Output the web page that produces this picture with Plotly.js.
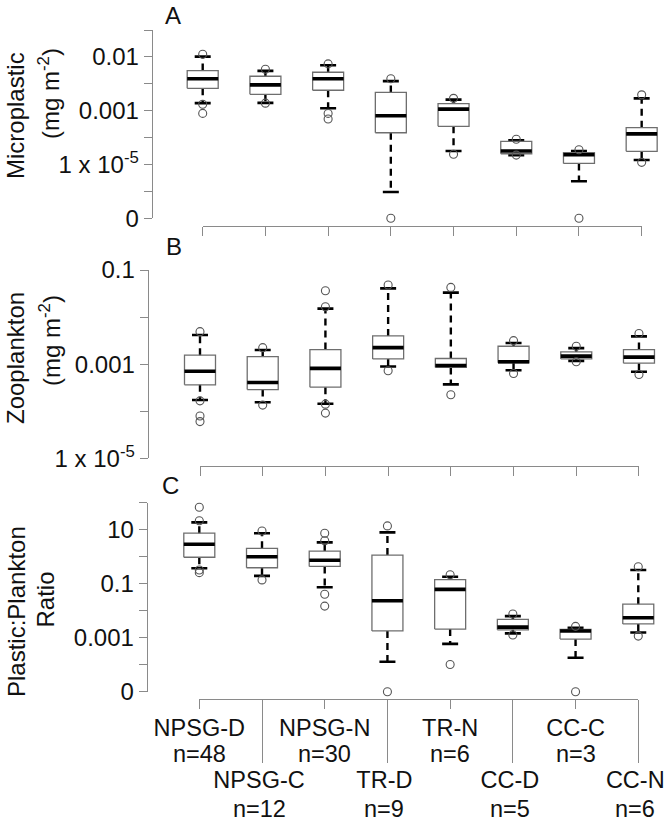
<!DOCTYPE html>
<html><head><meta charset="utf-8">
<script src="https://cdn.plot.ly/plotly-3.0.1.min.js"></script>
<style>body{margin:0;background:#fff}#chart{width:666px;height:823px}</style>
</head><body><div id="chart"></div>
<script>
// Categories and sample sizes
const groups = ['NPSG-D','NPSG-C','NPSG-N','TR-D','TR-N','CC-D','CC-C','CC-N'];
const nCounts = [48,12,30,9,6,5,3,6];

// Values read in axis tick units (one unit per tick mark of each panel's log-style axis)
// Panel A: Microplastic (mg m-2)
const aQ1  = [4.83,4.61,4.76,3.18,3.42,2.40,2.04,2.49];
const aMed = [5.19,4.96,5.19,3.81,4.06,2.50,2.36,3.14];
const aQ3  = [5.49,5.28,5.43,4.68,4.26,2.86,2.44,3.37];
const aLo  = [4.28,4.29,4.09,0.98,2.50,2.35,1.38,2.17];
const aHi  = [6.01,5.48,5.69,5.10,4.41,2.90,2.50,4.46];
const aOut = [[6.10,4.24,3.90],[5.54,4.28],[5.74,3.90,3.69],[5.19,0],[4.46,2.38],[2.94,2.35],[2.55,0],[4.59,2.08]];
const aTickVals = [0,2,4,6];
const aTickText = ['0','1 x 10<sup>-5</sup>','0.001','0.01'];

// Panel B: Zooplankton (mg m-2)
const bQ1  = [1.56,1.46,1.51,2.11,1.93,2.03,2.11,2.02];
const bMed = [1.85,1.61,1.91,2.35,1.97,2.05,2.17,2.15];
const bQ3  = [2.19,2.16,2.31,2.60,2.12,2.38,2.26,2.31];
const bLo  = [1.24,1.19,1.16,1.95,1.57,1.87,2.07,1.84];
const bHi  = [2.62,2.30,3.18,3.61,3.52,2.45,2.34,2.59];
const bOut = [[2.69,1.22,0.90,0.78],[2.35,1.13],[3.56,3.22,1.15,0.96],[3.68,1.86],[3.63,1.35],[2.50,1.80],[2.38,2.05],[2.65,1.78]];
const bTickVals = [0,2,4];
const bTickText = ['1 x 10<sup>-5</sup>','0.001','0.1'];

// Panel C: Plastic:Plankton ratio
const cQ1  = [4.98,4.59,4.64,2.25,2.32,2.29,1.95,2.51];
const cMed = [5.46,5.00,4.87,3.37,3.79,2.39,2.25,2.74];
const cQ3  = [5.87,5.31,5.21,5.06,4.15,2.68,2.31,3.24];
const cLo  = [4.57,4.29,3.87,1.11,1.77,2.16,1.26,2.19];
const cHi  = [6.27,5.87,5.53,5.90,4.26,2.80,2.37,4.51];
const cOut = [[6.83,6.33,4.51,4.41],[5.95,4.14],[5.87,5.59,3.61,3.17],[6.14,0],[4.33,1.01],[2.88,2.10],[2.42,0],[4.63,2.06]];
const cTickVals = [0,2,4,6];
const cTickText = ['0','0.001','0.1','10'];

// ---- geometry / style ----
const W = 666, H = 823;
const px = v => v / W;
const py = v => 1 - v / H;
const STEP = 62.71;           // pixels per category
const BOXW = 15.5 / STEP;     // half box width (category units)
const CAPW = 8 / STEP;        // half staple width
const FAM = 'Liberation Sans, Arial, sans-serif';
const FONT = {family: FAM, size: 24, color: '#111'};
const CFONT = {family: FAM, size: 23.5, color: '#111'};
const TFONT = {family: FAM, size: 24, color: '#111'};
const AXC = '#8a8a8a';

function boxTraces(q1, med, q3, lo, hi, out, xa, ya) {
  const bx=[],by=[],mx=[],my=[],wx=[],wy=[],cx=[],cy=[],ox=[],oy=[];
  groups.forEach((g, i) => {
    const c = i + 1;
    wx.push(c, c, null, c, c, null);
    wy.push(q3[i], hi[i], null, q1[i], lo[i], null);
    cx.push(c - CAPW, c + CAPW, null, c - CAPW, c + CAPW, null);
    cy.push(hi[i], hi[i], null, lo[i], lo[i], null);
    bx.push(c - BOXW, c + BOXW, c + BOXW, c - BOXW, c - BOXW, null);
    by.push(q1[i], q1[i], q3[i], q3[i], q1[i], null);
    mx.push(c - BOXW, c + BOXW, null);
    my.push(med[i], med[i], null);
    out[i].forEach(v => { ox.push(c); oy.push(v); });
  });
  const base = {type: 'scatter', xaxis: xa, yaxis: ya, showlegend: false, hoverinfo: 'skip', cliponaxis: false};
  return [
    Object.assign({}, base, {x: wx, y: wy, mode: 'lines', line: {color: '#000', width: 2.4, dash: '7px,5px'}}),
    Object.assign({}, base, {x: cx, y: cy, mode: 'lines', line: {color: '#000', width: 2.6}}),
    Object.assign({}, base, {x: bx, y: by, mode: 'lines', line: {color: '#6e6e6e', width: 1.3}}),
    Object.assign({}, base, {x: mx, y: my, mode: 'lines', line: {color: '#000', width: 3.6}}),
    Object.assign({}, base, {x: ox, y: oy, mode: 'markers',
      marker: {symbol: 'circle-open', size: 8, color: '#555', line: {width: 1.1, color: '#555'}}})
  ];
}

const panels = [
  {cat1: 202.7, yLine: 151.7, yTop: 30,    yBot: 218.3, xLine: 226, ymax: 7, tv: aTickVals, tt: aTickText},
  {cat1: 200.0, yLine: 147.7, yTop: 270,   yBot: 458.3, xLine: 466, ymax: 4, tv: bTickVals, tt: bTickText},
  {cat1: 199.3, yLine: 146.7, yTop: 502.7, yBot: 691.7, xLine: 699, ymax: 7, tv: cTickVals, tt: cTickText}
];

let data = [];
data = data.concat(boxTraces(aQ1, aMed, aQ3, aLo, aHi, aOut, 'x', 'y'));
data = data.concat(boxTraces(bQ1, bMed, bQ3, bLo, bHi, bOut, 'x2', 'y2'));
data = data.concat(boxTraces(cQ1, cMed, cQ3, cLo, cHi, cOut, 'x3', 'y3'));
// empty traces so that the display-only category axes get drawn
[['x4','y'],['x5','y2'],['x6','y3'],['x7','y3']].forEach(p =>
  data.push({type: 'scatter', x: [], y: [], xaxis: p[0], yaxis: p[1], showlegend: false, hoverinfo: 'skip'}));

const layout = {
  width: W, height: H,
  margin: {l: 0, r: 0, t: 0, b: 0},
  paper_bgcolor: '#fff', plot_bgcolor: 'rgba(0,0,0,0)',
  showlegend: false,
  font: FONT,
  annotations: []
};

const cats = groups.map((g, i) => i + 1);

panels.forEach((p, k) => {
  const sfx = k === 0 ? '' : String(k + 1);
  layout['xaxis' + sfx] = {
    domain: [0, 1], range: [1 + (0 - p.cat1) / STEP, 1 + (W - p.cat1) / STEP],
    visible: false, anchor: 'y' + sfx, fixedrange: true
  };
  layout['yaxis' + sfx] = {
    domain: [py(p.yBot), py(p.yTop)], range: [0, p.ymax],
    anchor: 'free', position: px(p.yLine),
    showline: true, linecolor: AXC, linewidth: 1,
    ticks: 'outside', ticklen: 8, tickcolor: AXC, tickwidth: 1,
    tickmode: 'array', tickvals: p.tv, ticktext: p.tt, tickfont: FONT, ticklabeloverflow: 'allow',
    minor: {ticks: 'outside', ticklen: 8, tickcolor: AXC, tickwidth: 1, tickmode: 'linear', tick0: 0, dtick: 1, showgrid: false},
    showgrid: false, zeroline: false, fixedrange: true, automargin: false
  };
});

function catAxis(p, vals, opts) {
  return Object.assign({
    domain: [px(p.cat1), px(p.cat1 + 7 * STEP)], range: [1, 8],
    anchor: 'free', position: py(p.xLine),
    showline: true, linecolor: AXC, linewidth: 1,
    ticks: 'outside', ticklen: 9, tickcolor: AXC, tickwidth: 1,
    tickmode: 'array', tickvals: vals, showticklabels: false, tickfont: CFONT, tickangle: 0,
    ticklabeloverflow: 'allow',
    showgrid: false, zeroline: false, fixedrange: true, automargin: false
  }, opts);
}
layout.xaxis4 = catAxis(panels[0], cats, {});
layout.xaxis5 = catAxis(panels[1], cats, {});
const oddIdx = [0, 2, 4, 6], evenIdx = [1, 3, 5, 7];
// group names (line 1) with the tick marks
layout.xaxis6 = catAxis(panels[2], oddIdx.map(i => cats[i]), {ticklen: 9, showticklabels: true,
  ticktext: oddIdx.map(i => groups[i]), ticklabelstandoff: -1});
layout.xaxis7 = catAxis(panels[2], evenIdx.map(i => cats[i]), {ticklen: 63, showticklabels: true,
  ticktext: evenIdx.map(i => groups[i]), ticklabelstandoff: -3, ticklabelshift: -3});
// sample sizes (line 2) placed under each category on the category axis
groups.forEach((g, i) => {
  const isOdd = i % 2 === 0;
  layout.annotations.push({text: 'n=' + nCounts[i], xref: isOdd ? 'x6' : 'x7', yref: 'paper',
    x: cats[i], y: py(isOdd ? 754 : 809), xshift: isOdd ? 0 : -3,
    xanchor: 'center', yanchor: 'middle', showarrow: false, font: CFONT});
});

// Panel letters
[['A', 172.5, 15.5], ['B', 173.5, 247], ['C', 170, 485.5]].forEach(a =>
  layout.annotations.push({text: a[0], xref: 'paper', yref: 'paper', x: px(a[1]), y: py(a[2]),
    xanchor: 'center', yanchor: 'middle', showarrow: false, font: FONT}));

// Y titles (two lines each)
[['Microplastic', 16, 116], ['(mg m<sup>-2</sup>)', 49, 93],
 ['Zooplankton', 15, 358], ['(mg m<sup>-2</sup>)', 50, 341],
 ['Plastic:Plankton', 16, 612], ['Ratio', 44.5, 600]].forEach(a =>
  layout.annotations.push({text: a[0], xref: 'paper', yref: 'paper', x: px(a[1]), y: py(a[2]),
    xanchor: 'center', yanchor: 'middle', textangle: -90, showarrow: false, font: TFONT}));

Plotly.newPlot('chart', data, layout, {staticPlot: true});
</script>
</body></html>
